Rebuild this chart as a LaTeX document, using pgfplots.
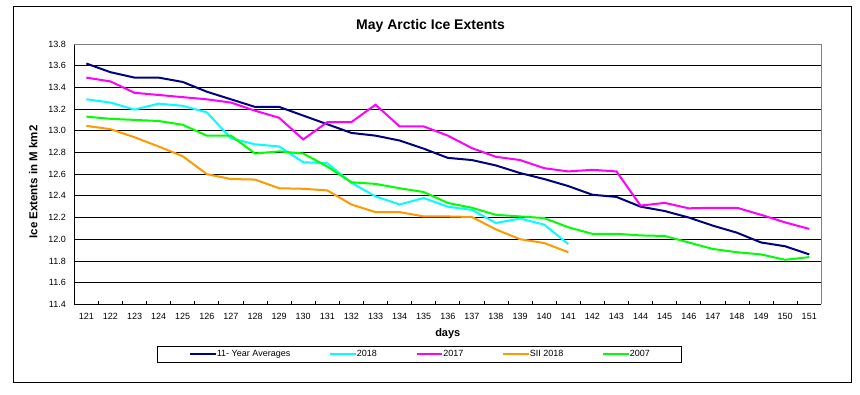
\documentclass[border=0pt]{standalone}
\usepackage{fontspec}
\setmainfont{Liberation Sans}
\usepackage{pgfplots}
\usepackage{pgfplotstable}
\pgfplotsset{compat=1.18}
\definecolor{avgblue}{RGB}{0,0,128}
\definecolor{cy}{RGB}{0,255,255}
\definecolor{mag}{RGB}{255,0,255}
\definecolor{org}{RGB}{255,153,0}
\definecolor{grn}{RGB}{0,255,0}

\pgfplotstableread{
day val
121 13.62
122 13.54
123 13.49
124 13.49
125 13.45
126 13.36
127 13.29
128 13.22
129 13.22
130 13.14
131 13.06
132 12.98
133 12.955
134 12.91
135 12.835
136 12.75
137 12.73
138 12.68
139 12.61
140 12.555
141 12.49
142 12.41
143 12.39
144 12.30
145 12.26
146 12.20
147 12.125
148 12.06
149 11.97
150 11.935
151 11.86
}\avgtab

\pgfplotstableread{
day val
121 13.29
122 13.26
123 13.195
124 13.25
125 13.23
126 13.17
127 12.93
128 12.875
129 12.855
130 12.71
131 12.70
132 12.52
133 12.395
134 12.32
135 12.38
136 12.30
137 12.27
138 12.15
139 12.19
140 12.135
141 11.955
}\tabeighteen

\pgfplotstableread{
day val
121 13.49
122 13.455
123 13.35
124 13.33
125 13.31
126 13.29
127 13.26
128 13.185
129 13.12
130 12.92
131 13.08
132 13.08
133 13.24
134 13.04
135 13.04
136 12.955
137 12.84
138 12.76
139 12.73
140 12.655
141 12.625
142 12.64
143 12.625
144 12.31
145 12.335
146 12.285
147 12.29
148 12.29
149 12.225
150 12.155
151 12.095
}\tabseventeen

\pgfplotstableread{
day val
121 13.045
122 13.015
123 12.94
124 12.855
125 12.765
126 12.60
127 12.555
128 12.55
129 12.47
130 12.465
131 12.45
132 12.32
133 12.25
134 12.25
135 12.21
136 12.21
137 12.205
138 12.09
139 12.00
140 11.965
141 11.88
}\tabsii

\pgfplotstableread{
day val
121 13.13
122 13.11
123 13.10
124 13.09
125 13.055
126 12.955
127 12.955
128 12.79
129 12.81
130 12.79
131 12.67
132 12.525
133 12.51
134 12.47
135 12.435
136 12.335
137 12.29
138 12.225
139 12.21
140 12.195
141 12.11
142 12.05
143 12.05
144 12.035
145 12.03
146 11.97
147 11.91
148 11.88
149 11.86
150 11.81
151 11.835
}\tabseven

\begin{document}
\begin{tikzpicture}[x=1pt,y=1pt]
\path (0,0) rectangle (860,395);
\draw[black, line width=0.9pt] (13.3,12.7) rectangle (851.7,389);
\node[font=\bfseries\fontsize{14}{16}\selectfont, anchor=base] at (430.5,365) {May Arctic Ice Extents};
\node[font=\bfseries\fontsize{11.5}{13}\selectfont, rotate=90, anchor=center] at (33.3,213) {Ice Extents in M km2};
\node[font=\bfseries\fontsize{11}{13}\selectfont, anchor=base] at (447.8,58) {days};
\begin{axis}[
  at={(74.3pt,90.7pt)}, anchor=south west,
  scale only axis, width=747pt, height=260.3pt,
  xmin=120.5, xmax=151.5, ymin=11.4, ymax=13.8,
  axis x line*=bottom, axis y line*=left,
  axis line style={black, line width=0.9pt, -},
  xtick={121,...,151},
  minor xtick={120.5,121.5,...,151.5},
  major x tick style={draw=none},
  minor x tick style={black, line width=0.8pt},
  minor tick length=3pt,
  tick align=inside,
  ytick={11.4,11.6,11.8,12.0,12.2,12.4,12.6,12.8,13.0,13.2,13.4,13.6,13.8},
  major y tick style={draw=none},
  extra y ticks={11.6,11.8,12.0,12.2,12.4,12.6,12.8,13.0,13.2,13.4,13.6},
  extra y tick labels={},
  extra y tick style={grid=major, major grid style={black, line width=0.8pt}},
  /pgf/number format/assume math mode=true,
  yticklabel style={/pgf/number format/fixed, /pgf/number format/fixed zerofill, /pgf/number format/precision=1},
  xticklabel style={/pgf/number format/fixed, /pgf/number format/precision=0, /pgf/number format/set thousands separator={}},
  tick label style={font=\fontsize{9}{10}\selectfont, inner sep=0pt},
  xticklabel style={anchor=base, yshift=-15.7pt},
  yticklabel style={anchor=east, xshift=-8.3pt},
  legend columns=5,
  legend cell align=left,
  legend style={at={(0.1107,-0.1602)}, anchor=north west, draw=black, line width=0.8pt,
    font=\fontsize{9}{10}\selectfont, inner xsep=32pt, inner ysep=2pt,
    /tikz/every even column/.append style={column sep=39pt},
    nodes={inner xsep=0pt, inner ysep=2pt}},
  legend image code/.code={\draw[#1, line width=2pt] (0pt,0pt) -- (25.5pt,0pt);},
  every axis plot/.append style={line width=2pt, mark=none},
  clip=false,
]
\addplot[avgblue] table[x=day,y=val] {\avgtab};
\addlegendentry{11- Year Averages}
\addplot[cy] table[x=day,y=val] {\tabeighteen};
\addlegendentry{2018}
\addplot[mag] table[x=day,y=val] {\tabseventeen};
\addlegendentry{2017}
\addplot[org] table[x=day,y=val] {\tabsii};
\addlegendentry{SII 2018}
\addplot[grn] table[x=day,y=val] {\tabseven};
\addlegendentry{2007}
\draw[gray, line width=0.9pt] (rel axis cs:0,1) -- (rel axis cs:1,1) -- (rel axis cs:1,0);
\end{axis}
\end{tikzpicture}
\end{document}
